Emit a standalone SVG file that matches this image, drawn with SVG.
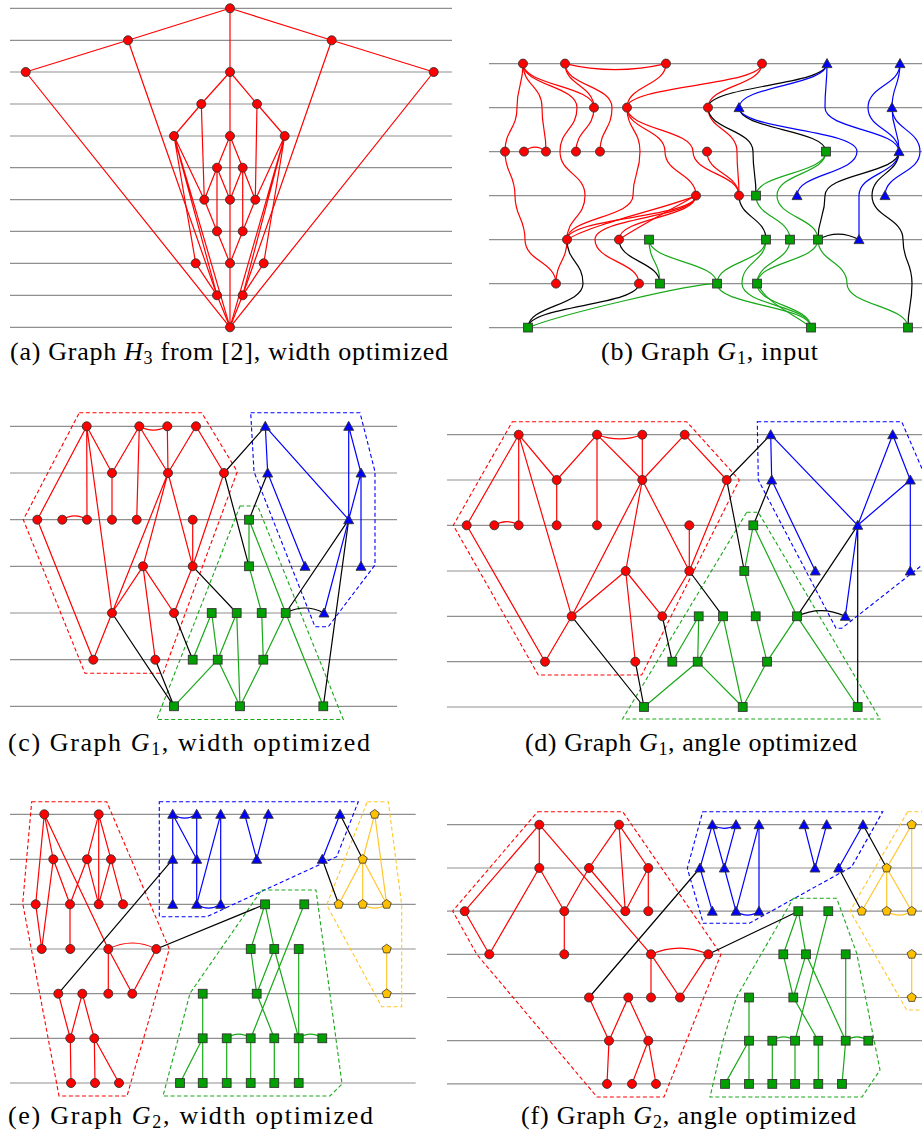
<svg xmlns="http://www.w3.org/2000/svg" xmlns:xlink="http://www.w3.org/1999/xlink" width="922" height="1139" viewBox="0 0 922 1139">
<style>
.gl{stroke:#8f8f8f;stroke-width:1.2}
.e{fill:none;stroke-width:1.2}
.r{stroke:#f00}.b{stroke:#00f}.g{stroke:#18a818}.k{stroke:#000}.y{stroke:#ffc62a}
.h{fill:none;stroke-width:1.1;stroke-dasharray:4 2.6}
.cap{font-family:"Liberation Serif",serif;font-size:26px;fill:#000}
</style>
<defs>
<circle id="nR" r="4.5" fill="#f00" stroke="#333" stroke-width="0.9"/>
<rect id="nG" x="-4.4" y="-4.4" width="8.8" height="8.8" fill="#00a000" stroke="#333" stroke-width="0.9"/>
<path id="nB" d="M0,-5 L5,4 L-5,4Z" fill="#00f" stroke="#333" stroke-width="0.9"/>
<path id="nY" d="M0,-4.8 L4.57,-1.48 L2.82,3.88 L-2.82,3.88 L-4.57,-1.48Z" fill="#ffc000" stroke="#333" stroke-width="0.8"/>
</defs>
<rect width="922" height="1139" fill="#fff"/>

<!-- ================= (a) ================= -->
<g id="a-lines" class="gl">
<line x1="10" y1="8.3" x2="452" y2="8.3"/><line x1="10" y1="40.3" x2="452" y2="40.3"/><line x1="10" y1="72" x2="452" y2="72"/><line x1="10" y1="104" x2="452" y2="104"/><line x1="10" y1="136" x2="452" y2="136"/><line x1="10" y1="167.7" x2="452" y2="167.7"/><line x1="10" y1="199.7" x2="452" y2="199.7"/><line x1="10" y1="231.3" x2="452" y2="231.3"/><line x1="10" y1="263.3" x2="452" y2="263.3"/><line x1="10" y1="295.3" x2="452" y2="295.3"/><line x1="10" y1="327.3" x2="452" y2="327.3"/>
</g>
<g id="a-edges" class="e r">
<path d="M230,8.3V327.3"/>
<path d="M230,8.3L128,40.3M230,8.3L331.7,40.3M128,40.3L25.7,72M331.7,40.3L433.7,72M25.7,72L230,327.3M433.7,72L230,327.3M128,40.3L217,295.3M331.7,40.3L242.7,295.3"/>
<path d="M230,72L201.3,104M230,72L257,104M201.3,104L174,136M257,104L284.7,136M201.3,104L204.3,199.7M257,104L255.3,199.7"/>
<path d="M174,136L204.3,199.7M284.7,136L255.3,199.7M174,136L195.7,263.3M174,136L217,295.3M174,136L230,327.3M284.7,136L263.7,263.3M284.7,136L242.7,295.3M284.7,136L230,327.3"/>
<path d="M230,136L217,167.7M230,136L242.7,167.7M217,167.7L204.3,199.7M217,167.7L230,199.7M242.7,167.7L230,199.7M242.7,167.7L255.3,199.7M217,167.7L217,231.3M242.7,167.7L242.7,231.3"/>
<path d="M204.3,199.7L217,231.3M255.3,199.7L242.7,231.3M217,231.3L230,263.3M242.7,231.3L230,263.3M195.7,263.3L217,295.3M263.7,263.3L242.7,295.3M217,295.3L230,327.3M242.7,295.3L230,327.3"/>
</g>
<g id="a-nodes">
<g id="a0"><use href="#nR" x="230" y="8.3"/></g>
<g id="a1"><use href="#nR" x="128" y="40.3"/></g>
<g id="a2"><use href="#nR" x="331.7" y="40.3"/></g>
<g id="a3"><use href="#nR" x="25.7" y="72"/></g>
<g id="a4"><use href="#nR" x="230" y="72"/></g>
<g id="a5"><use href="#nR" x="433.7" y="72"/></g>
<g id="a6"><use href="#nR" x="201.3" y="104"/></g>
<g id="a7"><use href="#nR" x="257" y="104"/></g>
<g id="a8"><use href="#nR" x="174" y="136"/></g>
<g id="a9"><use href="#nR" x="230" y="136"/></g>
<g id="a10"><use href="#nR" x="284.7" y="136"/></g>
<g id="a11"><use href="#nR" x="217" y="167.7"/></g>
<g id="a12"><use href="#nR" x="242.7" y="167.7"/></g>
<g id="a13"><use href="#nR" x="204.3" y="199.7"/></g>
<g id="a14"><use href="#nR" x="230" y="199.7"/></g>
<g id="a15"><use href="#nR" x="255.3" y="199.7"/></g>
<g id="a16"><use href="#nR" x="217" y="231.3"/></g>
<g id="a17"><use href="#nR" x="242.7" y="231.3"/></g>
<g id="a18"><use href="#nR" x="195.7" y="263.3"/></g>
<g id="a19"><use href="#nR" x="230" y="263.3"/></g>
<g id="a20"><use href="#nR" x="263.7" y="263.3"/></g>
<g id="a21"><use href="#nR" x="217" y="295.3"/></g>
<g id="a22"><use href="#nR" x="242.7" y="295.3"/></g>
<g id="a23"><use href="#nR" x="230" y="327.3"/></g>
</g>
<text class="cap" x="10" y="360" textLength="438" lengthAdjust="spacing">(a) Graph <tspan font-style="italic">H</tspan><tspan font-size="18" dy="4">3</tspan><tspan dy="-4"> from [2], width optimized</tspan></text>

<!-- ================= (b) ================= -->
<g transform="translate(0,-0.4)">
<g id="b-lines" class="gl">
<line x1="489" y1="64" x2="922" y2="64"/><line x1="489" y1="108" x2="922" y2="108"/><line x1="489" y1="152" x2="922" y2="152"/><line x1="489" y1="196" x2="922" y2="196"/><line x1="489" y1="240" x2="922" y2="240"/><line x1="489" y1="284" x2="922" y2="284"/><line x1="489" y1="328" x2="922" y2="328"/>
</g>
<g id="b-edges" class="e">
<g class="r">
<path d="M523,64C523,86 517,86 517,108C517,130 505,130 505,152"/>
<path d="M505,152C505,174 515,174 515,196C515,218 525,218 525,240C525,262 556,262 556,284"/>
<path d="M523,64C523,86 542,86 542,108C542,130 546,130 546,152"/>
<path d="M523,64C523,86 594,86 594,108"/>
<path d="M523,64C523,86 577,86 577,108C577,130 560,130 560,152C560,174 585,174 585,196C585,218 567,218 567,240"/>
<path d="M524,152Q535,143 546,152"/>
<path d="M565,64C565,86 594,86 594,108"/>
<path d="M565,64C565,86 612,86 612,108C612,130 600,130 600,152"/>
<path d="M594,108C594,130 576,130 576,152"/>
<path d="M565,64Q615,76 666,64"/>
<path d="M666,64C666,86 627,86 627,108"/>
<path d="M627,108C627,86 762,86 762,64"/>
<path d="M627,108C627,130 640,130 640,152C640,174 633,174 633,196C633,218 567,218 567,240"/>
<path d="M627,108C627,130 665,130 665,152C665,174 696,174 696,196"/>
<path d="M627,108C627,130 693,130 693,152C693,174 739,174 739,196"/>
<path d="M567,240C567,218 696,218 696,196"/>
<path d="M567,240C592,224 675,206 696,196"/>
<path d="M619,240C619,218 696,218 696,196"/>
<path d="M619,240C640,226 678,206 696,196"/>
<path d="M567,240C567,262 556,262 556,284"/>
<path d="M696,196C696,218 595,218 595,240C595,262 639,262 639,284"/>
<path d="M762,64C762,86 708,86 708,108"/>
<path d="M708,108C708,130 737,130 737,152C737,174 739,174 739,196"/>
<path d="M707,152C707,174 739,174 739,196"/>
</g>
<g class="k">
<path d="M619,240C619,262 660,262 660,284"/>
<path d="M567,240C567,262 583,262 583,284C583,306 528,306 528,328"/>
<path d="M528,328C528,306 639,306 639,284"/>
<path d="M708,108C708,86 827,86 827,64"/>
<path d="M708,108C708,130 753,130 753,152C753,174 756,174 756,196"/>
<path d="M739,108C739,130 826,130 826,152"/>
<path d="M739,196C739,218 766,218 766,240"/>
<path d="M899,152C899,174 825,174 825,196C825,218 818,218 818,240"/>
<path d="M899,152C899,174 872,174 872,196C872,218 903,218 903,240C903,262 912,262 912,284C912,306 908,306 908,328"/>
<path d="M818,240Q838,229 859,240"/>
</g>
<g class="g">
<path d="M649,240C649,262 660,262 660,284"/>
<path d="M649,240C649,262 717,262 717,284"/>
<path d="M528,328C560,315 690,284 717,284"/>
<path d="M756,196C756,174 826,174 826,152"/>
<path d="M826,152C826,174 777,174 777,196C777,218 818,218 818,240"/>
<path d="M756,196C756,218 790,218 790,240"/>
<path d="M717,284C717,262 766,262 766,240"/>
<path d="M766,240C766,262 742,262 742,284C742,306 811,306 811,328"/>
<path d="M757,284C757,262 790,262 790,240"/>
<path d="M757,284C757,262 818,262 818,240"/>
<path d="M717,284C717,306 811,306 811,328"/>
<path d="M757,284C757,306 811,306 811,328"/>
<path d="M757,284C768,306 798,316 811,328"/>
<path d="M818,240C818,262 847,262 847,284C847,306 908,306 908,328"/>
</g>
<g class="b">
<path d="M739,108C739,86 827,86 827,64"/>
<path d="M827,64C827,86 825,86 825,108C825,130 899,130 899,152"/>
<path d="M739,108C739,130 857,130 857,152C857,174 797,174 797,196"/>
<path d="M900,64C900,86 868,86 868,108C868,130 899,130 899,152"/>
<path d="M900,64C900,86 892,86 892,108"/>
<path d="M892,108C892,130 899,130 899,152"/>
<path d="M892,108C892,130 920,130 920,152C920,174 885,174 885,196"/>
<path d="M899,152C899,174 859,174 859,196C859,218 859,218 859,240"/>
</g>
</g>
<g id="b-nodes">
<g id="b1"><use href="#nR" x="523" y="64"/></g>
<g id="b2"><use href="#nR" x="565" y="64"/></g>
<g id="b3"><use href="#nR" x="666" y="64"/></g>
<g id="b4"><use href="#nR" x="762" y="64"/></g>
<g id="b5"><use href="#nB" x="827" y="64"/></g>
<g id="b6"><use href="#nB" x="900" y="64"/></g>
<g id="b7"><use href="#nR" x="594" y="108"/></g>
<g id="b8"><use href="#nR" x="627" y="108"/></g>
<g id="b9"><use href="#nR" x="708" y="108"/></g>
<g id="b10"><use href="#nB" x="739" y="108"/></g>
<g id="b11"><use href="#nB" x="892" y="108"/></g>
<g id="b12"><use href="#nR" x="505" y="152"/></g>
<g id="b13"><use href="#nR" x="524" y="152"/></g>
<g id="b14"><use href="#nR" x="546" y="152"/></g>
<g id="b15"><use href="#nR" x="576" y="152"/></g>
<g id="b16"><use href="#nR" x="600" y="152"/></g>
<g id="b17"><use href="#nR" x="707" y="152"/></g>
<g id="b18"><use href="#nG" x="826" y="152"/></g>
<g id="b19"><use href="#nB" x="899" y="152"/></g>
<g id="b20"><use href="#nR" x="696" y="196"/></g>
<g id="b21"><use href="#nR" x="739" y="196"/></g>
<g id="b22"><use href="#nG" x="756" y="196"/></g>
<g id="b23"><use href="#nB" x="797" y="196"/></g>
<g id="b24"><use href="#nB" x="885" y="196"/></g>
<g id="b25"><use href="#nR" x="567" y="240"/></g>
<g id="b26"><use href="#nR" x="619" y="240"/></g>
<g id="b27"><use href="#nG" x="649" y="240"/></g>
<g id="b28"><use href="#nG" x="766" y="240"/></g>
<g id="b29"><use href="#nG" x="790" y="240"/></g>
<g id="b30"><use href="#nG" x="818" y="240"/></g>
<g id="b31"><use href="#nB" x="859" y="240"/></g>
<g id="b32"><use href="#nR" x="556" y="284"/></g>
<g id="b33"><use href="#nR" x="639" y="284"/></g>
<g id="b34"><use href="#nG" x="660" y="284"/></g>
<g id="b35"><use href="#nG" x="717" y="284"/></g>
<g id="b36"><use href="#nG" x="757" y="284"/></g>
<g id="b37"><use href="#nG" x="528" y="328"/></g>
<g id="b38"><use href="#nG" x="811" y="328"/></g>
<g id="b39"><use href="#nG" x="908" y="328"/></g>
</g>
</g>
<text class="cap" x="601" y="360" textLength="217" lengthAdjust="spacing">(b) Graph <tspan font-style="italic">G</tspan><tspan font-size="18" dy="4">1</tspan><tspan dy="-4">, input</tspan></text>

<!-- ================= (c) ================= -->
<g id="c-lines" class="gl">
<line x1="10" y1="426.3" x2="397" y2="426.3"/><line x1="10" y1="473" x2="397" y2="473"/><line x1="10" y1="519.7" x2="397" y2="519.7"/><line x1="10" y1="566.3" x2="397" y2="566.3"/><line x1="10" y1="613" x2="397" y2="613"/><line x1="10" y1="659.7" x2="397" y2="659.7"/><line x1="10" y1="706.3" x2="397" y2="706.3"/>
</g>
<g id="c-hulls" class="h">
<path class="r" d="M79.3,412.7H201.7L237.3,471.7L163.3,673.3H85L23.3,519.7Z"/>
<path class="g" d="M240,506H257.7L343.3,719.5H156.7Z"/>
<path class="b" d="M250.7,412.7H360L375,471.7V565L328.3,626.7H315L254,471.7Z"/>
</g>
<g id="c-edges" class="e">
<path class="r" d="M86.7,426.3L37.3,519.7M86.7,426.3L87,519.7M86.7,426.3L112,473M86.7,426.3L112,613M112,473V519.7M112,473L139.3,426.3M139.3,426.3L136.7,519.7M139.3,426.3L168,473M167.3,426.3L168,473M196,426.3L168,473M196,426.3L224,473M37.3,519.7L93.3,659.7M93.3,659.7L112,613M112,613L168,473M112,613L143,566.3M143,566.3L168,473M168,473L192.7,566.3M192.7,519.7V566.3M224,473L192.7,566.3M192.7,566.3L174,613M143,566.3L155.3,659.7M143,566.3L174,613"/>
<path class="r" d="M139.3,426.3Q153.3,434 167.3,426.3M62.3,519.7Q74.7,512 87,519.7"/>
<path class="k" d="M112,613L174,706.3M155.3,659.7L174,706.3M174,613L192.7,659.7M192.7,566.3L236.7,613M224,473L249,566.3M224,473L265.3,426.3M267.7,473L249,519.7M348.7,519.7L285.7,613M348.7,519.7L323.3,706.3"/>
<path class="k" d="M285.7,613Q305,603 324,613"/>
<path class="b" d="M265.3,426.3L267.7,473M265.3,426.3L348.7,519.7M267.7,473L305,566.3M348.7,426.3V519.7M348.7,426.3L361,473M361,473V566.3M361,473L348.7,519.7M348.7,519.7L324,613"/>
<path class="g" d="M249,519.7V566.3M249,519.7L285.7,613M249,566.3L261.7,613M261.7,613L263.3,659.7M263.3,659.7L240,706.3M285.7,613L263.3,659.7M285.7,613L323.3,706.3M236.7,613L240,706.3M236.7,613L217.7,659.7M211.7,613L192.7,659.7M211.7,613L217.7,659.7M217.7,659.7L240,706.3M217.7,659.7L174,706.3"/>
</g>
<g id="c-nodes">
<g id="c1"><use href="#nR" x="86.7" y="426.3"/></g>
<g id="c2"><use href="#nR" x="139.3" y="426.3"/></g>
<g id="c3"><use href="#nR" x="167.3" y="426.3"/></g>
<g id="c4"><use href="#nR" x="196" y="426.3"/></g>
<g id="c5"><use href="#nR" x="112" y="473"/></g>
<g id="c6"><use href="#nR" x="168" y="473"/></g>
<g id="c7"><use href="#nR" x="224" y="473"/></g>
<g id="c8"><use href="#nR" x="37.3" y="519.7"/></g>
<g id="c9"><use href="#nR" x="62.3" y="519.7"/></g>
<g id="c10"><use href="#nR" x="87" y="519.7"/></g>
<g id="c11"><use href="#nR" x="112" y="519.7"/></g>
<g id="c12"><use href="#nR" x="136.7" y="519.7"/></g>
<g id="c13"><use href="#nR" x="192.7" y="519.7"/></g>
<g id="c14"><use href="#nR" x="143" y="566.3"/></g>
<g id="c15"><use href="#nR" x="192.7" y="566.3"/></g>
<g id="c16"><use href="#nR" x="112" y="613"/></g>
<g id="c17"><use href="#nR" x="174" y="613"/></g>
<g id="c18"><use href="#nR" x="93.3" y="659.7"/></g>
<g id="c19"><use href="#nR" x="155.3" y="659.7"/></g>
<g id="c20"><use href="#nB" x="265.3" y="426.3"/></g>
<g id="c21"><use href="#nB" x="348.7" y="426.3"/></g>
<g id="c22"><use href="#nB" x="267.7" y="473"/></g>
<g id="c23"><use href="#nB" x="361" y="473"/></g>
<g id="c24"><use href="#nB" x="348.7" y="519.7"/></g>
<g id="c25"><use href="#nB" x="305" y="566.3"/></g>
<g id="c26"><use href="#nB" x="361" y="566.3"/></g>
<g id="c27"><use href="#nB" x="324" y="613"/></g>
<g id="c28"><use href="#nG" x="249" y="519.7"/></g>
<g id="c29"><use href="#nG" x="249" y="566.3"/></g>
<g id="c30"><use href="#nG" x="211.7" y="613"/></g>
<g id="c31"><use href="#nG" x="236.7" y="613"/></g>
<g id="c32"><use href="#nG" x="261.7" y="613"/></g>
<g id="c33"><use href="#nG" x="285.7" y="613"/></g>
<g id="c34"><use href="#nG" x="192.7" y="659.7"/></g>
<g id="c35"><use href="#nG" x="217.7" y="659.7"/></g>
<g id="c36"><use href="#nG" x="263.3" y="659.7"/></g>
<g id="c37"><use href="#nG" x="174" y="706.3"/></g>
<g id="c38"><use href="#nG" x="240" y="706.3"/></g>
<g id="c39"><use href="#nG" x="323.3" y="706.3"/></g>
</g>
<text class="cap" x="8" y="751" textLength="362" lengthAdjust="spacing">(c) Graph <tspan font-style="italic">G</tspan><tspan font-size="18" dy="4">1</tspan><tspan dy="-4">, width optimized</tspan></text>

<!-- ================= (d) ================= -->
<g id="d-lines" class="gl">
<line x1="447" y1="434.7" x2="922" y2="434.7"/><line x1="447" y1="480" x2="922" y2="480"/><line x1="447" y1="525.3" x2="922" y2="525.3"/><line x1="447" y1="571" x2="922" y2="571"/><line x1="447" y1="616.3" x2="922" y2="616.3"/><line x1="447" y1="661.7" x2="922" y2="661.7"/><line x1="447" y1="707" x2="922" y2="707"/>
</g>
<g id="d-hulls" class="h">
<path class="r" d="M512.3,421.7H686.7L739.3,480L641.7,675H538.3L453.3,525.3Z"/>
<path class="g" d="M746.7,512.3H758.3L880,719H622.5Z"/>
<path class="b" d="M757.3,421.7H901.7L926,478V562L841.7,628.3L836,628.3L758.3,480Z"/>
</g>
<g id="d-edges" class="e">
<path class="r" d="M518.7,434.7L466.7,525.3M518.7,434.7V525.3M518.7,434.7L556.7,480M518.7,434.7L571.7,616.3M556.7,480V525.3M556.7,480L597,434.7M597,434.7V525.3M597,434.7L642.3,480M642.3,434.7V480M684.7,434.7L642.3,480M684.7,434.7L726.7,480M466.7,525.3L545,661.7M545,661.7L571.7,616.3M571.7,616.3L642.3,480M571.7,616.3L625.7,571M625.7,571L642.3,480M642.3,480L689.3,571M689.3,525.3V571M726.7,480L689.3,571M689.3,571L662.3,616.3M625.7,571L635.3,661.7M625.7,571L662.3,616.3"/>
<path class="r" d="M597,434.7Q619.7,443 642.3,434.7M494.3,525.3Q506.5,518 518.7,525.3"/>
<path class="k" d="M571.7,616.3L644,707M635.3,661.7L644,707M662.3,616.3L672.3,661.7M689.3,571L723,616.3M726.7,480L744.3,571M726.7,480L770.7,434.7M771.7,480L753.3,525.3M857.7,525.3L797,616.3M857.7,525.3V707"/>
<path class="k" d="M797,616.3Q821,605 845.3,616.3"/>
<path class="b" d="M770.7,434.7L771.7,480M770.7,434.7L857.7,525.3M771.7,480L815.3,571M892.7,434.7L857.7,525.3M892.7,434.7L910.3,480M910.3,480V571M910.3,480L857.7,525.3M857.7,525.3L845.3,616.3"/>
<path class="g" d="M753.3,525.3L744.3,571M753.3,525.3L797,616.3M744.3,571L755.7,616.3M755.7,616.3L767,661.7M767,661.7L742.7,707M797,616.3L767,661.7M797,616.3L857.7,707M723,616.3L742.7,707M723,616.3L697.7,661.7M698.7,616.3L672.3,661.7M698.7,616.3L697.7,661.7M697.7,661.7L742.7,707M697.7,661.7L644,707"/>
</g>
<g id="d-nodes">
<g id="d1"><use href="#nR" x="518.7" y="434.7"/></g>
<g id="d2"><use href="#nR" x="597" y="434.7"/></g>
<g id="d3"><use href="#nR" x="642.3" y="434.7"/></g>
<g id="d4"><use href="#nR" x="684.7" y="434.7"/></g>
<g id="d5"><use href="#nR" x="556.7" y="480"/></g>
<g id="d6"><use href="#nR" x="642.3" y="480"/></g>
<g id="d7"><use href="#nR" x="726.7" y="480"/></g>
<g id="d8"><use href="#nR" x="466.7" y="525.3"/></g>
<g id="d9"><use href="#nR" x="494.3" y="525.3"/></g>
<g id="d10"><use href="#nR" x="518.7" y="525.3"/></g>
<g id="d11"><use href="#nR" x="556.7" y="525.3"/></g>
<g id="d12"><use href="#nR" x="597" y="525.3"/></g>
<g id="d13"><use href="#nR" x="689.3" y="525.3"/></g>
<g id="d14"><use href="#nR" x="625.7" y="571"/></g>
<g id="d15"><use href="#nR" x="689.3" y="571"/></g>
<g id="d16"><use href="#nR" x="571.7" y="616.3"/></g>
<g id="d17"><use href="#nR" x="662.3" y="616.3"/></g>
<g id="d18"><use href="#nR" x="545" y="661.7"/></g>
<g id="d19"><use href="#nR" x="635.3" y="661.7"/></g>
<g id="d20"><use href="#nB" x="770.7" y="434.7"/></g>
<g id="d21"><use href="#nB" x="892.7" y="434.7"/></g>
<g id="d22"><use href="#nB" x="771.7" y="480"/></g>
<g id="d23"><use href="#nB" x="910.3" y="480"/></g>
<g id="d24"><use href="#nB" x="857.7" y="525.3"/></g>
<g id="d25"><use href="#nB" x="815.3" y="571"/></g>
<g id="d26"><use href="#nB" x="910.3" y="571"/></g>
<g id="d27"><use href="#nB" x="845.3" y="616.3"/></g>
<g id="d28"><use href="#nG" x="753.3" y="525.3"/></g>
<g id="d29"><use href="#nG" x="744.3" y="571"/></g>
<g id="d30"><use href="#nG" x="698.7" y="616.3"/></g>
<g id="d31"><use href="#nG" x="723" y="616.3"/></g>
<g id="d32"><use href="#nG" x="755.7" y="616.3"/></g>
<g id="d33"><use href="#nG" x="797" y="616.3"/></g>
<g id="d34"><use href="#nG" x="672.3" y="661.7"/></g>
<g id="d35"><use href="#nG" x="697.7" y="661.7"/></g>
<g id="d36"><use href="#nG" x="767" y="661.7"/></g>
<g id="d37"><use href="#nG" x="644" y="707"/></g>
<g id="d38"><use href="#nG" x="742.7" y="707"/></g>
<g id="d39"><use href="#nG" x="857.7" y="707"/></g>
</g>
<text class="cap" x="525" y="751" textLength="332" lengthAdjust="spacing">(d) Graph <tspan font-style="italic">G</tspan><tspan font-size="18" dy="4">1</tspan><tspan dy="-4">, angle optimized</tspan></text>

<!-- ================= (e) ================= -->
<g id="e-lines" class="gl">
<line x1="10" y1="814.3" x2="415.7" y2="814.3"/><line x1="10" y1="859.3" x2="415.7" y2="859.3"/><line x1="10" y1="904.3" x2="415.7" y2="904.3"/><line x1="10" y1="949" x2="415.7" y2="949"/><line x1="10" y1="993.7" x2="415.7" y2="993.7"/><line x1="10" y1="1038.3" x2="415.7" y2="1038.3"/><line x1="10" y1="1083" x2="415.7" y2="1083"/>
</g>
<g id="e-hulls" class="h">
<path class="r" d="M31.7,801.7H106.7L169.3,949L127,1096H59L22.7,903.3Z"/>
<path class="b" d="M159.3,801.7H358.3L336.7,856.7L206.7,916.7H159.3Z"/>
<path class="y" d="M367.3,801.7H388.3L401.7,905V1006.7H381.7L326.7,905Z"/>
<path class="g" d="M261.7,890H316L342,1084L330,1096H163L178.3,1038.3L190,993.3Z"/>
</g>
<g id="e-edges" class="e">
<path class="r" d="M44.3,814.3L35.7,904.3M44.3,814.3L53.3,859.3M44.3,814.3L108.3,949M98.7,814.3L87,859.3M98.7,814.3V904.3M98.7,814.3L111,859.3M53.3,859.3L41.7,949M53.3,859.3L70,904.3M87,859.3L70,904.3M87,859.3L98.7,904.3M111,859.3L98.7,904.3M111,859.3L123,904.3M35.7,904.3L41.7,949M70,904.3V949M108.3,949V993.7M108.3,949L132.3,993.7M156.3,949L132.3,993.7M58.3,993.7L70.3,1038.3M82.3,993.7L70.3,1038.3M82.3,993.7L94.3,1038.3M70.3,1038.3L71,1083M94.3,1038.3L95,1083M94.3,1038.3L119,1083"/>
<path class="r" d="M108.3,949Q132.3,937 156.3,949"/>
<path class="k" d="M156.3,949L265,904.3M58.3,993.7L172.7,859.3M340,814.3L362.7,859.3M322.3,859.3L338.7,904.3"/>
<path class="b" d="M172.7,814.3V904.3M172.7,814.3L196.7,859.3M196.7,814.3V904.3M220.7,814.3L196.7,904.3M220.7,814.3V904.3M244.7,814.3L256.7,859.3M268.3,814.3L256.7,859.3M340,814.3L322.3,859.3"/>
<path class="b" d="M172.7,814.3Q184.7,822 196.7,814.3M196.7,904.3Q208.7,912 220.7,904.3"/>
<path class="y" d="M374.7,814.3L362.7,859.3M374.7,814.3L386.7,904.3M362.7,859.3L338.7,904.3M362.7,859.3V904.3M362.7,859.3L386.7,904.3M362.7,904.3Q374.7,912 386.7,904.3M386.7,949V993.7"/>
<path class="g" d="M265,904.3L250.7,949M265,904.3L274.3,949M304.3,904.3L250.7,1038.3M250.7,949L256.7,993.7M274.3,949L256.7,993.7M274.3,949L298.7,1038.3M298.7,949V1038.3M256.7,993.7L274.3,1038.3M202.7,993.7V1038.3M226.7,1038.3Q238.7,1030 250.7,1038.3M298.7,1038.3Q310.5,1030 322.3,1038.3M202.7,1038.3L180,1083M202.7,1038.3V1083M226.7,1038.3V1083M250.7,1038.3V1083M274.3,1038.3V1083M298.7,1038.3V1083"/>
</g>
<g id="e-nodes">
<g id="e1"><use href="#nR" x="44.3" y="814.3"/></g>
<g id="e2"><use href="#nR" x="98.7" y="814.3"/></g>
<g id="e3"><use href="#nR" x="53.3" y="859.3"/></g>
<g id="e4"><use href="#nR" x="87" y="859.3"/></g>
<g id="e5"><use href="#nR" x="111" y="859.3"/></g>
<g id="e6"><use href="#nR" x="35.7" y="904.3"/></g>
<g id="e7"><use href="#nR" x="70" y="904.3"/></g>
<g id="e8"><use href="#nR" x="98.7" y="904.3"/></g>
<g id="e9"><use href="#nR" x="123" y="904.3"/></g>
<g id="e10"><use href="#nR" x="41.7" y="949"/></g>
<g id="e11"><use href="#nR" x="70.3" y="949"/></g>
<g id="e12"><use href="#nR" x="108.3" y="949"/></g>
<g id="e13"><use href="#nR" x="156.3" y="949"/></g>
<g id="e14"><use href="#nR" x="58.3" y="993.7"/></g>
<g id="e15"><use href="#nR" x="82.3" y="993.7"/></g>
<g id="e16"><use href="#nR" x="108.3" y="993.7"/></g>
<g id="e17"><use href="#nR" x="132.3" y="993.7"/></g>
<g id="e18"><use href="#nR" x="70.3" y="1038.3"/></g>
<g id="e19"><use href="#nR" x="94.3" y="1038.3"/></g>
<g id="e53"><use href="#nR" x="71" y="1083"/></g>
<g id="e54"><use href="#nR" x="95" y="1083"/></g>
<g id="e55"><use href="#nR" x="119" y="1083"/></g>
<g id="e20"><use href="#nB" x="172.7" y="814.3"/></g>
<g id="e21"><use href="#nB" x="196.7" y="814.3"/></g>
<g id="e22"><use href="#nB" x="220.7" y="814.3"/></g>
<g id="e23"><use href="#nB" x="244.7" y="814.3"/></g>
<g id="e24"><use href="#nB" x="268.3" y="814.3"/></g>
<g id="e25"><use href="#nB" x="340" y="814.3"/></g>
<g id="e26"><use href="#nB" x="172.7" y="859.3"/></g>
<g id="e27"><use href="#nB" x="196.7" y="859.3"/></g>
<g id="e28"><use href="#nB" x="256.7" y="859.3"/></g>
<g id="e29"><use href="#nB" x="322.3" y="859.3"/></g>
<g id="e30"><use href="#nB" x="172.7" y="904.3"/></g>
<g id="e31"><use href="#nB" x="196.7" y="904.3"/></g>
<g id="e32"><use href="#nB" x="220.7" y="904.3"/></g>
<g id="e33"><use href="#nY" x="374.7" y="814.3"/></g>
<g id="e34"><use href="#nY" x="362.7" y="859.3"/></g>
<g id="e35"><use href="#nY" x="338.7" y="904.3"/></g>
<g id="e36"><use href="#nY" x="362.7" y="904.3"/></g>
<g id="e37"><use href="#nY" x="386.7" y="904.3"/></g>
<g id="e38"><use href="#nY" x="386.7" y="949"/></g>
<g id="e39"><use href="#nY" x="386.7" y="993.7"/></g>
<g id="e40"><use href="#nG" x="265" y="904.3"/></g>
<g id="e41"><use href="#nG" x="304.3" y="904.3"/></g>
<g id="e42"><use href="#nG" x="250.7" y="949"/></g>
<g id="e43"><use href="#nG" x="274.3" y="949"/></g>
<g id="e44"><use href="#nG" x="298.7" y="949"/></g>
<g id="e45"><use href="#nG" x="202.7" y="993.7"/></g>
<g id="e46"><use href="#nG" x="256.7" y="993.7"/></g>
<g id="e47"><use href="#nG" x="202.7" y="1038.3"/></g>
<g id="e48"><use href="#nG" x="226.7" y="1038.3"/></g>
<g id="e49"><use href="#nG" x="250.7" y="1038.3"/></g>
<g id="e50"><use href="#nG" x="274.3" y="1038.3"/></g>
<g id="e51"><use href="#nG" x="298.7" y="1038.3"/></g>
<g id="e52"><use href="#nG" x="322.3" y="1038.3"/></g>
<g id="e56"><use href="#nG" x="180" y="1083"/></g>
<g id="e57"><use href="#nG" x="202.7" y="1083"/></g>
<g id="e58"><use href="#nG" x="226.7" y="1083"/></g>
<g id="e59"><use href="#nG" x="250.7" y="1083"/></g>
<g id="e60"><use href="#nG" x="274.3" y="1083"/></g>
<g id="e61"><use href="#nG" x="298.7" y="1083"/></g>
</g>
<text class="cap" x="8" y="1124" textLength="365" lengthAdjust="spacing">(e) Graph <tspan font-style="italic">G</tspan><tspan font-size="18" dy="4">2</tspan><tspan dy="-4">, width optimized</tspan></text>

<!-- ================= (f) ================= -->
<g id="f-lines" class="gl">
<line x1="447" y1="824.7" x2="922" y2="824.7"/><line x1="447" y1="868" x2="922" y2="868"/><line x1="447" y1="911.2" x2="922" y2="911.2"/><line x1="447" y1="954.3" x2="922" y2="954.3"/><line x1="447" y1="997.5" x2="922" y2="997.5"/><line x1="447" y1="1040.7" x2="922" y2="1040.7"/><line x1="447" y1="1083.9" x2="922" y2="1083.9"/>
</g>
<g id="f-hulls" class="h">
<path class="r" d="M537.7,811.7H622.7L721,954.3L664,1097H597L476.7,954.3L452.7,911Z"/>
<path class="b" d="M702.7,811.7H882.7L851.7,866.7L749.3,923.3H703.3L687.3,868.3Z"/>
<path class="y" d="M907.7,811.7H930V1010H906.7L850,911Z"/>
<path class="g" d="M793.3,898.3H836.7L856.7,953.3L880,1070L862,1097H710L723.3,1040L736.7,996.7Z"/>
</g>
<g id="f-edges" class="e">
<path class="r" d="M539.3,824.7L464.7,911.2M539.3,824.7V868M539.3,824.7L651,954.3M619,824.7L589,868M619,824.7L625.3,911.2M619,824.7L648.3,868M539.3,868L489.3,954.3M539.3,868L564.3,911.2M589,868L564.3,911.2M589,868L625.3,911.2M648.3,868L625.3,911.2M648.3,868V911.2M464.7,911.2L489.3,954.3M564.3,911.2V954.3M651,954.3V997.5M651,954.3L680,997.5M708.3,954.3L680,997.5M589,997.5L609,1040.7M628.3,997.5L609,1040.7M628.3,997.5L648.3,1040.7M609,1040.7L607,1083.9M648.3,1040.7L632,1083.9M648.3,1040.7L656,1083.9"/>
<path class="r" d="M651,954.3Q679.7,942 708.3,954.3"/>
<path class="k" d="M708.3,954.3L798.3,911.2M589,997.5L700,868M863,824.7L886.7,868M838.7,868L861.7,911.2"/>
<path class="b" d="M712.3,824.7L700,868M712.3,824.7L724.3,868M736,824.7L724.3,868M759,824.7L736,911.2M759,824.7V911.2M700,868L712.3,911.2M724.3,868L736,911.2M804,824.7L815,868M826.7,824.7L815,868M863,824.7L838.7,868"/>
<path class="b" d="M712.3,824.7Q724.2,832 736,824.7M736,911.2Q747.5,919 759,911.2"/>
<path class="y" d="M911.7,824.7L886.7,868M911.7,824.7V911.2M886.7,868L861.7,911.2M886.7,868V911.2M886.7,868L911.7,911.2M886.7,911.2Q899.2,919 911.7,911.2M911.7,954.3V997.5"/>
<path class="g" d="M798.3,911.2L783.3,954.3M798.3,911.2L806,954.3M828.3,911.2L795,1040.7M783.3,954.3L793.3,997.5M806,954.3L793.3,997.5M806,954.3L845.7,1040.7M845.7,954.3V1040.7M793.3,997.5L818.3,1040.7M749,997.5V1040.7M772.3,1040.7Q783.7,1033 795,1040.7M845.7,1040.7Q857,1033 868.3,1040.7M749,1040.7L725,1083.9M749,1040.7V1083.9M772.3,1040.7V1083.9M795,1040.7V1083.9M818.3,1040.7V1083.9M845.7,1040.7L842,1083.9"/>
</g>
<g id="f-nodes">
<g id="f1"><use href="#nR" x="539.3" y="824.7"/></g>
<g id="f2"><use href="#nR" x="619" y="824.7"/></g>
<g id="f3"><use href="#nR" x="539.3" y="868"/></g>
<g id="f4"><use href="#nR" x="589" y="868"/></g>
<g id="f5"><use href="#nR" x="648.3" y="868"/></g>
<g id="f6"><use href="#nR" x="464.7" y="911.2"/></g>
<g id="f7"><use href="#nR" x="564.3" y="911.2"/></g>
<g id="f8"><use href="#nR" x="625.3" y="911.2"/></g>
<g id="f9"><use href="#nR" x="648.3" y="911.2"/></g>
<g id="f10"><use href="#nR" x="489.3" y="954.3"/></g>
<g id="f11"><use href="#nR" x="564.3" y="954.3"/></g>
<g id="f12"><use href="#nR" x="651" y="954.3"/></g>
<g id="f13"><use href="#nR" x="708.3" y="954.3"/></g>
<g id="f14"><use href="#nR" x="589" y="997.5"/></g>
<g id="f15"><use href="#nR" x="628.3" y="997.5"/></g>
<g id="f16"><use href="#nR" x="651" y="997.5"/></g>
<g id="f17"><use href="#nR" x="680" y="997.5"/></g>
<g id="f18"><use href="#nR" x="609" y="1040.7"/></g>
<g id="f19"><use href="#nR" x="648.3" y="1040.7"/></g>
<g id="f53"><use href="#nR" x="607" y="1083.9"/></g>
<g id="f54"><use href="#nR" x="632" y="1083.9"/></g>
<g id="f55"><use href="#nR" x="656" y="1083.9"/></g>
<g id="f20"><use href="#nB" x="712.3" y="824.7"/></g>
<g id="f21"><use href="#nB" x="736" y="824.7"/></g>
<g id="f22"><use href="#nB" x="759" y="824.7"/></g>
<g id="f23"><use href="#nB" x="804" y="824.7"/></g>
<g id="f24"><use href="#nB" x="826.7" y="824.7"/></g>
<g id="f25"><use href="#nB" x="863" y="824.7"/></g>
<g id="f26"><use href="#nB" x="700" y="868"/></g>
<g id="f27"><use href="#nB" x="724.3" y="868"/></g>
<g id="f28"><use href="#nB" x="815" y="868"/></g>
<g id="f29"><use href="#nB" x="838.7" y="868"/></g>
<g id="f30"><use href="#nB" x="712.3" y="911.2"/></g>
<g id="f31"><use href="#nB" x="736" y="911.2"/></g>
<g id="f32"><use href="#nB" x="759" y="911.2"/></g>
<g id="f33"><use href="#nY" x="911.7" y="824.7"/></g>
<g id="f34"><use href="#nY" x="886.7" y="868"/></g>
<g id="f35"><use href="#nY" x="861.7" y="911.2"/></g>
<g id="f36"><use href="#nY" x="886.7" y="911.2"/></g>
<g id="f37"><use href="#nY" x="911.7" y="911.2"/></g>
<g id="f38"><use href="#nY" x="911.7" y="954.3"/></g>
<g id="f39"><use href="#nY" x="911.7" y="997.5"/></g>
<g id="f40"><use href="#nG" x="798.3" y="911.2"/></g>
<g id="f41"><use href="#nG" x="828.3" y="911.2"/></g>
<g id="f42"><use href="#nG" x="783.3" y="954.3"/></g>
<g id="f43"><use href="#nG" x="806" y="954.3"/></g>
<g id="f44"><use href="#nG" x="845.7" y="954.3"/></g>
<g id="f45"><use href="#nG" x="749" y="997.5"/></g>
<g id="f46"><use href="#nG" x="793.3" y="997.5"/></g>
<g id="f47"><use href="#nG" x="749" y="1040.7"/></g>
<g id="f48"><use href="#nG" x="772.3" y="1040.7"/></g>
<g id="f49"><use href="#nG" x="795" y="1040.7"/></g>
<g id="f50"><use href="#nG" x="818.3" y="1040.7"/></g>
<g id="f51"><use href="#nG" x="845.7" y="1040.7"/></g>
<g id="f52"><use href="#nG" x="868.3" y="1040.7"/></g>
<g id="f56"><use href="#nG" x="725" y="1083.9"/></g>
<g id="f57"><use href="#nG" x="749" y="1083.9"/></g>
<g id="f58"><use href="#nG" x="772.3" y="1083.9"/></g>
<g id="f59"><use href="#nG" x="795" y="1083.9"/></g>
<g id="f60"><use href="#nG" x="818.3" y="1083.9"/></g>
<g id="f61"><use href="#nG" x="842" y="1083.9"/></g>
</g>
<text class="cap" x="521" y="1124" textLength="335" lengthAdjust="spacing">(f) Graph <tspan font-style="italic">G</tspan><tspan font-size="18" dy="4">2</tspan><tspan dy="-4">, angle optimized</tspan></text>
</svg>
